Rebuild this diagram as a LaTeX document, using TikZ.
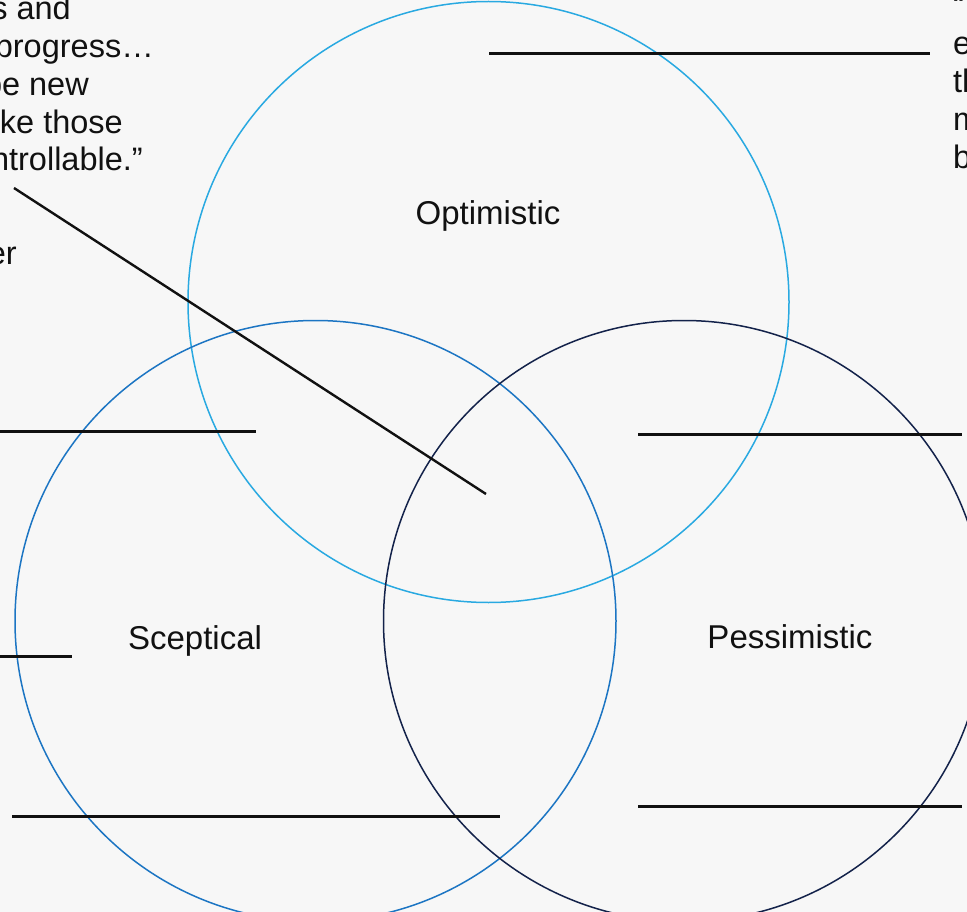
\documentclass[tikz,border=0pt]{standalone}
\usepackage{fontspec}
\setmainfont{Liberation Sans}
\usepackage{xcolor}
\usetikzlibrary{positioning}
\definecolor{optblue}{HTML}{29A9E1}
\definecolor{scepblue}{HTML}{1C75C3}
\definecolor{pessnavy}{HTML}{13224A}
\definecolor{paper}{HTML}{F7F7F7}
\definecolor{ink}{HTML}{111111}

\begin{document}
\begin{tikzpicture}[x=1pt, y=-1pt,
  ring/.style={circle, minimum size=601pt, inner sep=0pt, line width=1.5pt},
  lbl/.style={font=\fontsize{33}{38}\selectfont, text=ink, inner sep=0pt, anchor=base},
  quote/.style={font=\fontsize{32.5}{38}\selectfont, text=ink, inner sep=0pt},
  lead/.style={line width=3pt, draw=ink}
]
\useasboundingbox (0,0) rectangle (967,912);
\fill[paper] (0,0) rectangle (967,912);
\clip (0,0) rectangle (967,912);

\node[ring, draw=optblue]  (opt)  at (488.5,302) {};
\node[ring, draw=scepblue] (scep) at (315.5,621) {};
\node[ring, draw=pessnavy] (pess) at (684,621) {};

\node[lbl] (optlbl)  at (488,225) {Optimistic};
\node[lbl] (sceplbl) at (195,649) {Sceptical};
\node[lbl] (pesslbl) at (790,648) {Pessimistic};

\foreach \txt/\xe [count=\i] in {s and/71, progress…/154, be new/89, ke those/123, ntrollable.”/143}
  \node[quote, anchor=base east] (left\i) at (\xe, -18+37.8*\i) {\txt};
\node[quote, anchor=base east] (attr) at (17,265) {er};
\node[quote, anchor=base east] (dot) at (2,791) {.};

\foreach \txt [count=\i] in {“, e, th, m, b}
  \node[quote, anchor=base west] (right\i) at (953, -21+38*\i) {\txt};

\foreach \a/\b/\y [count=\i] in {489/930/54, -5/256/431, -5/72/656, 12/500/816, 638/962/434, 638/962/806}{
  \coordinate (s\i) at (\a,\y);
  \coordinate (e\i) at (\b,\y);
  \draw[lead] (s\i) -- (e\i);
}
\coordinate (ptr) at (14,188);
\coordinate (mid) at (486,494);
\draw[lead, line width=2.4pt] (ptr) -- (mid);
\end{tikzpicture}
\end{document}
